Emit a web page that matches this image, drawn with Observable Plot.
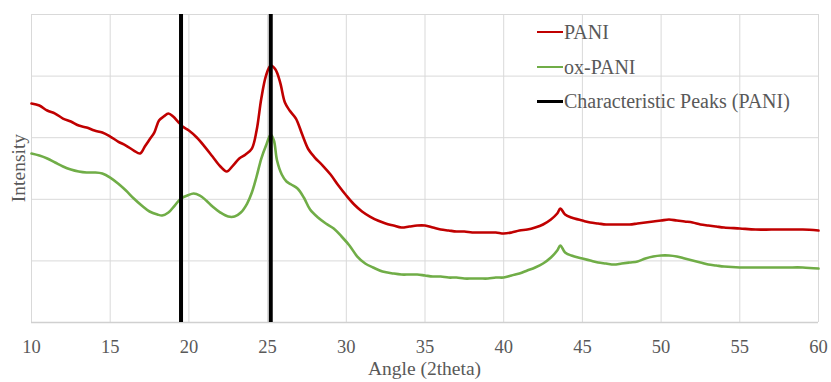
<!DOCTYPE html>
<html>
<head>
<meta charset="utf-8">
<script src="https://cdn.jsdelivr.net/npm/d3@7"></script>
<script src="https://cdn.jsdelivr.net/npm/@observablehq/plot@0.6"></script>
<style>
  html, body { margin: 0; padding: 0; background: #fff; }
  #wrap { position: relative; width: 831px; height: 382px; font-family: "Liberation Serif", "Times New Roman", serif; color: #595959; }
  #wrap svg { display: block; }
  .ylab { position: absolute; left: 18.5px; top: 168px; transform: translate(-50%, -50%) rotate(-90deg); font-size: 19.5px; white-space: nowrap; }
  .xlab { position: absolute; left: 31px; width: 787px; top: 359px; text-align: center; font-size: 19.5px; line-height: 20px; white-space: nowrap; }
  .legend { position: absolute; left: 537px; top: 15px; font-size: 20px; }
  .legend .row { display: flex; align-items: center; height: 34.7px; white-space: nowrap; }
  .legend .sw { width: 26px; margin-right: 1px; }
</style>
</head>
<body>
<div id="wrap"></div>
<script>
// XRD patterns, 2θ in degrees and intensity in counts
const paniAngle = [10,10.5,11,11.5,12,12.5,13,13.5,14,14.5,15,15.5,16,16.5,
  16.9,17.2,17.5,17.8,18.1,18.4,18.7,19,19.3,19.6,
  20,20.5,21,21.5,22,
  22.4,22.8,23.2,23.6,24,
  24.3,24.6,24.9,25.2,25.5,25.8,26.1,26.4,
  26.8,27.2,27.6,28,
  28.5,29,29.5,30,30.5,31,31.5,32,32.5,33,33.5,34,34.5,35,35.5,36,36.5,37,37.5,38,38.5,39,39.5,40,40.5,41,41.5,42,42.5,43,
  43.4,43.6,43.9,44.3,
  45,45.5,46,46.5,47,47.5,48,48.5,49,49.5,50,50.5,51,51.5,52,52.5,53,53.5,54,
  55,56,57,58,59,60];
const paniIntensity = [3554,3522,3441,3392,3311,3262,3197,3165,3116,3084,3019,2938,2873,2792,
  2743,2856,2970,3084,3278,3343,3392,3343,3262,3181,
  3116,3003,2856,2694,2532,
  2451,2548,2662,2727,2824,
  3116,3636,4009,4171,4106,3895,3571,3441,
  3311,3051,2808,2678,
  2548,2402,2224,2061,1915,1802,1720,1655,1607,1574,1542,1558,1574,1574,1542,1509,1493,1477,1477,1461,1461,1461,1461,1444,1461,1493,1509,1542,1591,1672,
  1769,1850,1753,1704,
  1655,1623,1607,1591,1591,1591,1591,1607,1623,1639,1655,1672,1655,1639,1623,1591,1574,1558,1542,
  1526,1509,1509,1509,1509,1493];

const oxAngle = [10,10.5,11,11.5,12,12.5,13,13.5,14,14.5,15,15.5,16,16.5,17,17.5,18,
  18.3,18.7,19.1,19.5,19.9,20.3,20.7,21.1,21.5,
  22,22.5,22.9,23.3,23.7,24,24.3,24.6,24.9,25.2,25.4,25.6,25.9,26.2,26.5,26.9,27.3,27.7,28.2,28.7,29.2,29.7,30.2,30.7,31.2,31.7,32.3,
  33,33.5,34,34.5,35,35.5,36,36.5,37,37.5,38,38.5,39,39.5,40,40.5,41,41.5,42,42.5,43,
  43.4,43.6,43.9,44.3,
  45,45.5,46,46.5,47,47.5,48,48.5,49,49.5,50,50.5,51,51.5,52,52.5,53,53.5,54,
  55,56,57,58,59,60];
const oxIntensity = [2743,2710,2662,2597,2532,2483,2451,2435,2435,2418,2353,2256,2142,2013,1899,1802,1753,
  1737,1785,1899,2013,2061,2094,2061,1980,1883,
  1785,1720,1720,1785,1931,2110,2370,2662,2873,3051,2954,2629,2402,2288,2240,2175,2029,1834,1704,1607,1526,1396,1250,1071,958,893,828,
  795,779,779,779,763,747,747,730,730,714,714,714,714,730,730,763,795,844,893,958,1055,
  1169,1250,1136,1087,
  1039,1006,974,958,941,958,974,990,1039,1071,1087,1087,1071,1039,1006,974,941,925,909,
  893,893,893,893,893,876];

// characteristic PANI reflections
const peakAngles = [19.5, 25.2];

const xTicks = [10,15,20,25,30,35,40,45,50,55,60];
const yTicks = [0,1000,2000,3000,4000,5000];

const seriesNames = ["PANI", "ox-PANI", "Characteristic Peaks (PANI)"];
const seriesColors = ["#c00000", "#70ad47", "#000000"];
const seriesWidths = [2, 2, 3.5];

const pani = paniAngle.map((a, i) => ({angle: a, intensity: paniIntensity[i]}));
const ox = oxAngle.map((a, i) => ({angle: a, intensity: oxIntensity[i]}));

const chart = Plot.plot({
  width: 831,
  height: 382,
  marginLeft: 31,
  marginRight: 13,
  marginTop: 14,
  marginBottom: 60,
  style: {fontFamily: "'Liberation Serif', 'Times New Roman', serif", fontSize: "18.5px", color: "#595959", background: "#fff"},
  x: {domain: [10, 60]},
  y: {domain: [0, 5000], axis: null},
  marks: [
    Plot.gridX(xTicks, {stroke: "#d9d9d9", strokeOpacity: 1, strokeWidth: 1}),
    Plot.gridY(yTicks, {stroke: "#d9d9d9", strokeOpacity: 1, strokeWidth: 1}),
    Plot.ruleY([0], {stroke: "#d0d0d0", strokeWidth: 1.3}),
    Plot.axisX(xTicks, {tickSize: 0, tickPadding: 17, label: null, fill: "#595959"}),
    Plot.line(pani, {x: "angle", y: "intensity", stroke: seriesColors[0], strokeWidth: 2.6, strokeLinejoin: "round", curve: "catmull-rom"}),
    Plot.line(ox, {x: "angle", y: "intensity", stroke: seriesColors[1], strokeWidth: 2.6, strokeLinejoin: "round", curve: "catmull-rom"}),
    Plot.ruleX(peakAngles, {stroke: seriesColors[2], strokeWidth: 4})
  ]
});

const wrap = document.getElementById("wrap");
wrap.appendChild(chart);

const ylab = document.createElement("div");
ylab.className = "ylab";
ylab.textContent = "Intensity";
wrap.appendChild(ylab);

const xlab = document.createElement("div");
xlab.className = "xlab";
xlab.textContent = "Angle (2theta)";
wrap.appendChild(xlab);

const legend = document.createElement("div");
legend.className = "legend";
seriesNames.forEach((name, i) => {
  const row = document.createElement("div");
  row.className = "row";
  const sw = document.createElement("span");
  sw.className = "sw";
  sw.style.borderTop = `${seriesWidths[i]}px solid ${seriesColors[i]}`;
  const label = document.createElement("span");
  label.textContent = name;
  row.appendChild(sw);
  row.appendChild(label);
  legend.appendChild(row);
});
wrap.appendChild(legend);
</script>
</body>
</html>
